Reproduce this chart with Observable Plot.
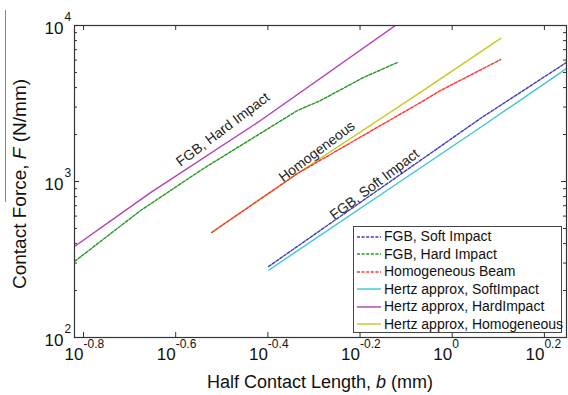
<!DOCTYPE html>
<html><head><meta charset="utf-8">
<script src="https://cdn.jsdelivr.net/npm/d3@7"></script>
<script src="https://cdn.jsdelivr.net/npm/@observablehq/plot@0.6"></script>
<style>
body{margin:0;background:#fff;font-family:"Liberation Sans",Arial,sans-serif;}
#wrap{position:relative;width:568px;height:395px;overflow:hidden;}
#wrap > svg{position:absolute;left:0;top:0;}
.legend{position:absolute;left:353px;top:226px;width:209px;height:107px;border:1px solid #444;background:#fff;font-size:14px;color:#111;box-sizing:border-box;padding-top:1px;}
.legend .row{height:17.5px;line-height:17.5px;white-space:nowrap;display:flex;align-items:center;}
.legend .row svg{display:block;margin-left:3px;margin-right:3px;flex:none;}
.xtitle{position:absolute;left:0;width:640px;top:372px;text-align:center;font-size:18px;color:#111;}
.ytitle{position:absolute;left:-130px;width:300px;top:173px;height:22px;line-height:22px;text-align:center;font-size:19px;color:#111;transform:rotate(-90deg);transform-origin:center;}
.deco{position:absolute;left:5px;top:10px;height:192px;border-left:1px solid #888;}
</style></head><body>
<div id="wrap"></div>
<script>
// ---- data ----
const seriesNames = ["FGB, Soft Impact","FGB, Hard Impact","Homogeneous Beam","Hertz approx, SoftImpact","Hertz approx, HardImpact","Hertz approx, Homogeneous"];

const fgbSoftB = [0.3995, 1.151, 1.769];
const fgbSoftF = [285, 2535, 5795];
const fgbHardB = [0.1515, 0.2108, 0.2886, 0.4615, 0.5175, 0.642, 0.7605];
const fgbHardF = [307, 652, 1211, 2851, 3300, 4645, 5795];
const homogB   = [0.3006, 0.4615, 0.699, 0.853, 0.943, 1.274];
const homogF   = [471, 1125, 2287, 3205, 3830, 6050];
const hertzSoftB = [0.3995, 1.151, 1.769];
const hertzSoftF = [270, 2218, 5295];
const hertzHardB = [0.1515, 0.2215, 0.3838, 0.753];
const hertzHardF = [383, 849, 2460, 10000];
const hertzHomB  = [0.3006, 0.4615, 0.853, 1.274];
const hertzHomF  = [471, 1125, 3725, 8260];

const xTickExponents = [-0.8, -0.6, -0.4, -0.2, 0, 0.2];
const xTickLabels = ["-0.8", "-0.6", "-0.4", "-0.2", "0", "0.2"];
const yTickExponents = [2, 3, 4];
const yTickLabels = ["2", "3", "4"];
const yMinorTicks = [200,300,400,500,600,700,800,900,2000,3000,4000,5000,6000,7000,8000,9000];
const xDomain = [0.1515, 1.77];
const yDomain = [100, 10000];

const annotText = ["FGB, Hard Impact", "Homogeneous", "FGB, Soft Impact"];
const annotB = [0.3181, 0.5086, 0.6783];
const annotF = [2154, 1557, 957];

// ---- styles ----
const seriesColors = ["#3c3cc0", "#229a22", "#ff3030", "#3cc8d2", "#b43cb4", "#c8c820"];
const seriesDashed = [true, true, true, false, false, false];
const seriesData = [[fgbSoftB,fgbSoftF],[fgbHardB,fgbHardF],[homogB,homogF],[hertzSoftB,hertzSoftF],[hertzHardB,hertzHardF],[hertzHomB,hertzHomF]];
const drawOrder = [4, 1, 5, 2, 3, 0];

const W = 568, H = 395, mL = 74, mR = 2, mT = 25, mB = 58;
const fw = W - mL - mR, fh = H - mT - mB;
const ink = "#333";

const lineMarks = drawOrder.map(i => Plot.line(d3.zip(seriesData[i][0], seriesData[i][1]), {
  x: d => d[0], y: d => d[1], stroke: seriesColors[i], strokeWidth: 1.4,
  strokeDasharray: seriesDashed[i] ? "3,1.6" : null, clip: true
}));

const xTickVals = xTickExponents.map(e => 10 ** e);
const yMajorVals = yTickExponents.map(e => 10 ** e);

const chart = Plot.plot({
  width: W, height: H,
  marginLeft: mL, marginRight: mR, marginTop: mT, marginBottom: mB,
  x: {type: "log", domain: xDomain, axis: null},
  y: {type: "log", domain: yDomain, axis: null},
  style: {fontFamily: "Liberation Sans, Arial, sans-serif", background: "white", overflow: "visible", color: "#111"},
  marks: [
    ...lineMarks,
    Plot.text(annotText, {x: (d, i) => annotB[i], y: (d, i) => annotF[i], text: d => d, rotate: -37, fontSize: 14, fill: "#222"}),
    // inward ticks
    Plot.tickX(xTickVals, {x: d => d, insetTop: fh - 5, stroke: ink}),
    Plot.tickX(xTickVals, {x: d => d, insetBottom: fh - 5, stroke: ink}),
    Plot.tickY(yMajorVals, {y: d => d, insetRight: fw - 5, stroke: ink}),
    Plot.tickY(yMajorVals, {y: d => d, insetLeft: fw - 5, stroke: ink}),
    Plot.tickY(yMinorTicks, {y: d => d, insetRight: fw - 3, stroke: ink}),
    Plot.tickY(yMinorTicks, {y: d => d, insetLeft: fw - 3, stroke: ink}),
    // box
    Plot.frame({stroke: ink, strokeWidth: 1.2}),
    // tick labels as 10 + superscript exponent
    Plot.text(xTickVals, {x: d => d, text: () => "10", frameAnchor: "bottom", textAnchor: "end", dy: 22, fontSize: 17, fill: "#111"}),
    Plot.text(xTickVals, {x: d => d, text: (d, i) => xTickLabels[i], frameAnchor: "bottom", textAnchor: "start", dy: 10, fontSize: 12, fill: "#111"}),
    Plot.text(yMajorVals, {y: d => d, text: () => "10", frameAnchor: "left", textAnchor: "end", dx: -11, dy: 3, fontSize: 17, fill: "#111"}),
    Plot.text(yMajorVals, {y: d => d, text: (d, i) => yTickLabels[i], frameAnchor: "left", textAnchor: "start", dx: -10, dy: -8, fontSize: 12, fill: "#111"})
  ]
});

const wrap = document.getElementById("wrap");
wrap.appendChild(chart);

const deco = document.createElement("div"); deco.className = "deco"; wrap.appendChild(deco);

const xt = document.createElement("div"); xt.className = "xtitle";
xt.innerHTML = "Half Contact Length, <i>b</i> (mm)"; wrap.appendChild(xt);
const yt = document.createElement("div"); yt.className = "ytitle";
yt.innerHTML = "Contact Force, <i>F</i> (N/mm)"; wrap.appendChild(yt);

const lg = document.createElement("div"); lg.className = "legend";
seriesNames.forEach((name, i) => {
  const row = document.createElement("div"); row.className = "row";
  const dash = seriesDashed[i] ? 'stroke-dasharray="3,1.6"' : '';
  row.innerHTML = `<svg width="24" height="6"><line x1="0" y1="3" x2="24" y2="3" stroke="${seriesColors[i]}" stroke-width="1.4" ${dash}/></svg><span>${name}</span>`;
  lg.appendChild(row);
});
wrap.appendChild(lg);
</script>
</body></html>
